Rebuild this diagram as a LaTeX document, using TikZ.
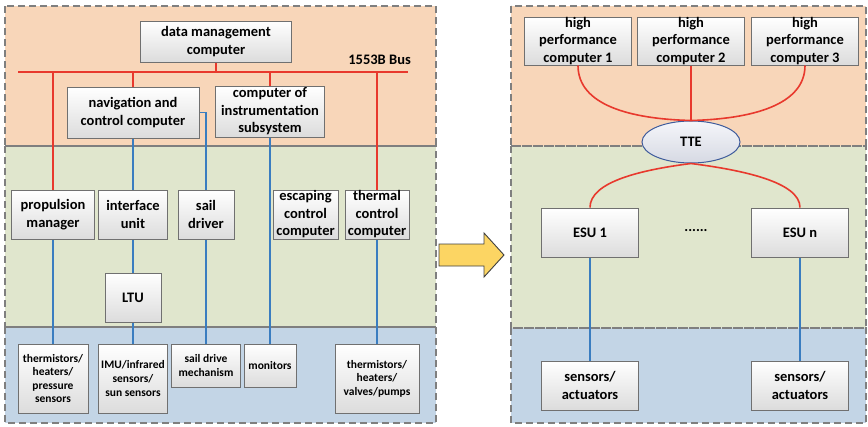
\documentclass[tikz,border=0pt]{standalone}
\usepackage{fontspec}
\setmainfont{Carlito}
\usetikzlibrary{shapes.geometric}

\definecolor{zonetop}{HTML}{F8D6B9}
\definecolor{zonemid}{HTML}{E0E6CD}
\definecolor{zonelow}{HTML}{C3D5E6}
\definecolor{frame}{HTML}{7F7F7F}
\definecolor{boxline}{HTML}{707070}
\definecolor{boxbot}{HTML}{DCDCDC}
\definecolor{busred}{HTML}{E8392D}
\definecolor{linkblue}{HTML}{3A7DC0}
\definecolor{arrowfill}{HTML}{FCD563}
\definecolor{ttetop}{HTML}{F5F6FA}
\definecolor{ttebot}{HTML}{D6D9E3}
\definecolor{tteline}{HTML}{3F5C9C}

\newcommand\bigtxt{\fontsize{14.5}{17.5}\selectfont\bfseries}
\newcommand\smalltxt{\fontsize{11.5}{13.6}\selectfont\bfseries}

\begin{document}
\begin{tikzpicture}[x=1pt,y=-1pt,
  zone/.style={draw=frame, line width=1.2pt, dash pattern=on 7pt off 4pt},
  unit/.style={draw=boxline, line width=1pt, top color=white, bottom color=boxbot,
    inner sep=0pt, align=center, font=\bigtxt},
  small/.style={unit, font=\smalltxt},
  redlink/.style={draw=busred, line width=1.9pt},
  bluelink/.style={draw=linkblue, line width=1.9pt},
  switch/.style={ellipse, draw=tteline, line width=1pt, top color=ttetop, bottom color=ttebot,
    inner sep=0pt, minimum width=98pt, minimum height=42pt, font=\bigtxt}]
\useasboundingbox (0,0) rectangle (868,426);

% ---------- bands ----------
\fill[zonetop] (5,6) rectangle (436,146);
\fill[zonemid] (5,146) rectangle (436,327);
\fill[zonelow] (5,327) rectangle (436,423);
\fill[zonetop] (511,6) rectangle (866,146);
\fill[zonemid] (511,146) rectangle (866,328);
\fill[zonelow] (511,328) rectangle (866,423);
\draw[zone] (5,6) rectangle (436,146);
\draw[zone] (5,146) rectangle (436,327);
\draw[zone] (5,327) rectangle (436,423);
\draw[zone] (511,6) rectangle (866,146);
\draw[zone] (511,146) rectangle (866,328);
\draw[zone] (511,328) rectangle (866,423);

% ---------- centralised architecture ----------
\node[unit, minimum width=151pt, minimum height=41pt] (dmc) at (216,41.5) {data management\\computer};
\node[unit, minimum width=132pt, minimum height=51pt] (nav) at (133,112.5) {navigation and\\control computer};
\node[unit, minimum width=109pt, minimum height=51pt] (instr) at (270,111.5) {computer of\\instrumentation\\subsystem};

\node[unit, minimum width=83pt, minimum height=49pt] (prop) at (53,214.5) {propulsion\\manager};
\node[unit, minimum width=69pt, minimum height=49pt] (iface) at (133,214.5) {interface\\unit};
\node[unit, minimum width=56pt, minimum height=49pt] (sail) at (206,214.5) {sail\\driver};
\node[unit, minimum width=65pt, minimum height=49pt] (escape) at (305.5,214.5) {escaping\\control\\computer};
\node[unit, minimum width=64pt, minimum height=49pt] (thermal) at (377,214.5) {thermal\\control\\computer};
\node[unit, minimum width=56pt, minimum height=49pt] (ltu) at (133,297.5) {LTU};

\node[small, minimum width=70pt, minimum height=69pt] (therm) at (53,378.5) {thermistors/\\heaters/\\pressure\\sensors};
\node[small, minimum width=69pt, minimum height=69pt] (imu) at (133,378.5) {IMU/infrared\\sensors/\\sun sensors};
\node[small, minimum width=69pt, minimum height=43pt] (sdm) at (206,365.5) {sail drive\\mechanism};
\node[small, minimum width=52pt, minimum height=43pt] (mon) at (270,365.5) {monitors};
\node[small, minimum width=84pt, minimum height=69pt] (valves) at (377,378.5) {thermistors/\\heaters/\\valves/pumps};

% 1553B bus
\coordinate (busL) at (18,72);
\coordinate (busR) at (408,72);
\draw[draw=busred, line width=2.4pt] (busL) -- (busR);
\node[anchor=east, inner sep=0pt, font=\bigtxt] (buslabel) at (411,60) {1553B Bus};
\draw[redlink] (dmc.south) -- (dmc.south |- busL);
\draw[redlink] (nav.north |- busL) -- (nav.north);
\draw[redlink] (instr.north |- busL) -- (instr.north);
\draw[redlink] (prop.north |- busL) -- (prop.north);
\draw[redlink] (thermal.north |- busL) -- (thermal.north);

% local links
\draw[bluelink] (nav.south) -- (iface.north);
\draw[bluelink] (nav.east) -| (sail.north);
\draw[bluelink] (instr.south) -- (mon.north);
\draw[bluelink] (prop.south) -- (therm.north);
\draw[bluelink] (iface.south) -- (ltu.north);
\draw[bluelink] (ltu.south) -- (imu.north);
\draw[bluelink] (sail.south) -- (sdm.north);
\draw[bluelink] (thermal.south) -- (valves.north);

% ---------- transition arrow ----------
\draw[draw=black!75, line width=0.9pt, fill=arrowfill]
  (439,244) -- (484,244) -- (484,233) -- (504,255) -- (484,277) -- (484,266) -- (439,266) -- cycle;

% ---------- distributed architecture ----------
\node[unit, minimum width=107pt, minimum height=48pt] (hpc1) at (578,41) {high\\performance\\computer 1};
\node[unit, minimum width=107pt, minimum height=48pt] (hpc2) at (691,41) {high\\performance\\computer 2};
\node[unit, minimum width=107pt, minimum height=48pt] (hpc3) at (805,41) {high\\performance\\computer 3};
\node[switch] (tte) at (691,142) {TTE};

\node[unit, minimum width=97pt, minimum height=49pt] (esu1) at (590,232.5) {ESU 1};
\node[unit, minimum width=97pt, minimum height=49pt] (esun) at (800,232.5) {ESU n};
\node[font=\bigtxt, inner sep=0pt] (dots) at (696,231) {......};
\node[unit, minimum width=97pt, minimum height=49pt] (sa1) at (590,385.5) {sensors/\\actuators};
\node[unit, minimum width=97pt, minimum height=49pt] (san) at (800,385.5) {sensors/\\actuators};

\draw[redlink, line width=1.6pt] (hpc1.south) .. controls (578,105) and (630,119) .. (tte.north);
\draw[redlink, line width=1.6pt] (hpc2.south) -- (tte.north);
\draw[redlink, line width=1.6pt] (hpc3.south) .. controls (805,105) and (752,119) .. (tte.north);
\draw[redlink, line width=1.6pt] (tte.south) .. controls (640,170) and (590,182) .. (esu1.north);
\draw[redlink, line width=1.6pt] (tte.south) .. controls (742,170) and (800,182) .. (esun.north);
\draw[bluelink, line width=1.6pt] (esu1.south) -- (sa1.north);
\draw[bluelink, line width=1.6pt] (esun.south) -- (san.north);
\end{tikzpicture}
\end{document}
